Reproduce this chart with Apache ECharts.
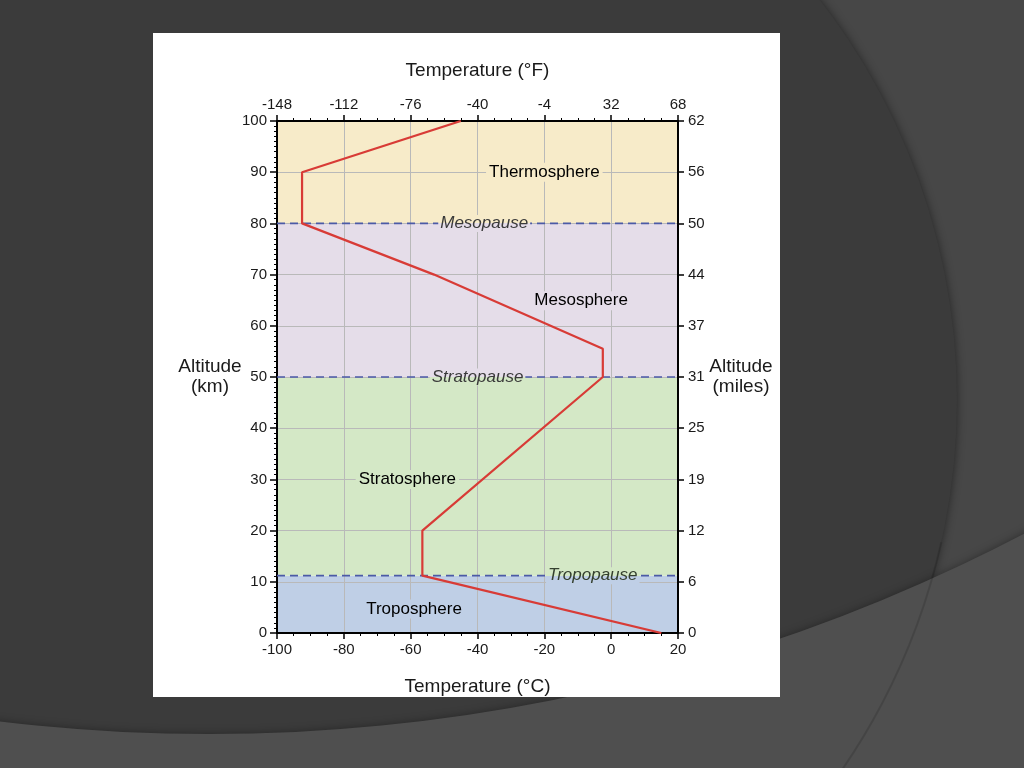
<!DOCTYPE html>
<html><head><meta charset="utf-8">
<script src="https://cdn.jsdelivr.net/npm/echarts@6/dist/echarts.min.js"></script>
<style>html,body{margin:0;padding:0;background:#474747;}#c{width:1024px;height:768px;}</style>
</head><body><div id="c"></div>
<script>
// ---------- data ----------
const celsiusTicks = [-100, -80, -60, -40, -20, 0, 20];
const fahrenheitTicks = [-148, -112, -76, -40, -4, 32, 68];
const kmTicks = [0, 10, 20, 30, 40, 50, 60, 70, 80, 90, 100];
const milesTicks = [0, 6, 12, 19, 25, 31, 37, 44, 50, 56, 62];

const profileTempC = [15, -56.5, -56.5, -2.5, -2.5, -53, -92.5, -92.5, -45];
const profileAltKm = [0, 11.2, 20, 50, 55.5, 70, 80, 90, 100];

const layerNames = ['Troposphere', 'Stratosphere', 'Mesosphere', 'Thermosphere'];
const layerBottomKm = [0, 11.2, 50, 80];
const layerTopKm = [11.2, 50, 80, 100];
const layerLabelTempC = [-59, -61, -9, -20];
const layerLabelAltKm = [4.7, 30, 64.9, 90];

const pauseNames = ['Tropopause', 'Stratopause', 'Mesopause'];
const pauseAltKm = [11.2, 50, 80];
const pauseLabelTempC = [-5.5, -40, -38];

// ---------- styles ----------
const bandColors = ['#bfcfe6', '#d4e8c6', '#e5dde9', '#f7ebc9'];
const pauseTextColors = ['#34402f', '#3a3a3a', '#3a3a3a'];
const FONT = 'Liberation Sans, Arial, Helvetica, sans-serif';

const tMin = celsiusTicks[0], tMax = celsiusTicks[celsiusTicks.length - 1];
const hMin = kmTicks[0], hMax = kmTicks[kmTicks.length - 1];

const chart = echarts.init(document.getElementById('c'));

function splitGrad(top, bottom) {
  return new echarts.graphic.LinearGradient(0, 0, 0, 1, [
    {offset: 0, color: top}, {offset: 0.5, color: top},
    {offset: 0.5, color: bottom}, {offset: 1, color: bottom}
  ]);
}

const labelData = layerNames.map((n, i) => ({
  value: [layerLabelTempC[i], layerLabelAltKm[i]],
  label: {
    show: true, position: 'inside', formatter: n, opacity: 1,
    fontFamily: FONT, fontSize: 17, color: '#000000',
    backgroundColor: bandColors[i], padding: [1, 3]
  }
})).concat(pauseNames.map((n, i) => ({
  value: [pauseLabelTempC[i], pauseAltKm[i]],
  label: {
    show: true, position: 'inside', formatter: n, opacity: 1,
    fontFamily: FONT, fontSize: 17, fontStyle: 'italic', color: pauseTextColors[i],
    backgroundColor: splitGrad(bandColors[i + 1], bandColors[i]), padding: [0, 2]
  }
})));

const pauseSeries = pauseAltKm.map(h => ({
  type: 'line', silent: true, symbol: 'none', z: 3,
  data: [[tMin, h], [tMax, h]],
  lineStyle: {color: '#4b5aa6', width: 1.6, type: [8, 5]}
}));

const axisLineStyle = {color: '#000', width: 2};
const tickLabel = {fontFamily: FONT, fontSize: 15, color: '#1a1a1a'};
const nameStyle = {fontFamily: FONT, fontSize: 19, color: '#1a1a1a', align: 'center', verticalAlign: 'middle', lineHeight: 20};

chart.setOption({
  animation: false,
  backgroundColor: '#474747',
  graphic: [
    {type: 'circle', z: -100, silent: true, shape: {cx: 305, cy: 400, r: 652},
     style: {fill: '#3b3b3b', shadowBlur: 10, shadowColor: 'rgba(0,0,0,0.45)'}},
    {type: 'ring', z: -99, silent: true, shape: {cx: 209, cy: -1024, r0: 1758, r: 3200},
     style: {fill: '#4f4f4f', shadowBlur: 8, shadowColor: 'rgba(0,0,0,0.35)'}},
    {type: 'arc', z: -98, silent: true, shape: {cx: 305, cy: 400, r: 652, startAngle: 0.22, endAngle: 0.75},
     style: {stroke: 'rgba(0,0,0,0.13)', lineWidth: 2, fill: null}},
    {type: 'rect', z: -90, silent: true, shape: {x: 153, y: 33, width: 627, height: 664},
     style: {fill: '#ffffff'}}
  ],
  grid: {left: 277, top: 121, width: 401, height: 512, containLabel: false, outerBoundsMode: 'none', show: false},
  xAxis: [
    {
      type: 'value', position: 'bottom', min: tMin, max: tMax, interval: 20,
      axisLine: {show: true, onZero: false, lineStyle: axisLineStyle},
      axisTick: {show: true, length: 6, lineStyle: {color: '#000', width: 1.5}},
      minorTick: {show: true, splitNumber: 4, length: 3, lineStyle: {color: '#000', width: 1}},
      axisLabel: Object.assign({margin: 9, formatter: v => String(celsiusTicks[Math.round((v - tMin) / 20)])}, tickLabel),
      splitLine: {show: true, lineStyle: {color: '#b9b9b9', width: 1}},
      name: 'Temperature (°C)', nameLocation: 'middle', nameGap: 54, nameMoveOverlap: false, nameTextStyle: nameStyle
    },
    {
      type: 'value', position: 'top', min: tMin, max: tMax, interval: 20,
      axisLine: {show: true, onZero: false, lineStyle: axisLineStyle},
      axisTick: {show: true, length: 6, lineStyle: {color: '#000', width: 1.5}},
      minorTick: {show: true, splitNumber: 4, length: 3, lineStyle: {color: '#000', width: 1}},
      axisLabel: Object.assign({margin: 9, formatter: v => String(fahrenheitTicks[Math.round((v - tMin) / 20)])}, tickLabel),
      splitLine: {show: false},
      name: 'Temperature (°F)', nameLocation: 'middle', nameGap: 50, nameMoveOverlap: false, nameTextStyle: nameStyle
    }
  ],
  yAxis: [
    {
      type: 'value', position: 'left', min: hMin, max: hMax, interval: 10,
      axisLine: {show: true, onZero: false, lineStyle: axisLineStyle},
      axisTick: {show: true, length: 7, lineStyle: {color: '#000', width: 1.5}},
      minorTick: {show: true, splitNumber: 10, length: 3, lineStyle: {color: '#000', width: 1}},
      axisLabel: Object.assign({margin: 10, formatter: v => String(kmTicks[Math.round(v / 10)])}, tickLabel),
      splitLine: {show: true, lineStyle: {color: '#b9b9b9', width: 1}},
      name: 'Altitude\n(km)', nameLocation: 'middle', nameRotate: 0, nameGap: 67, nameMoveOverlap: false, nameTextStyle: nameStyle
    },
    {
      type: 'value', position: 'right', min: hMin, max: hMax, interval: 10,
      axisLine: {show: true, onZero: false, lineStyle: axisLineStyle},
      axisTick: {show: true, length: 6, lineStyle: {color: '#000', width: 1.5}},
      axisLabel: Object.assign({margin: 10, formatter: v => String(milesTicks[Math.round(v / 10)])}, tickLabel),
      splitLine: {show: false},
      name: 'Altitude\n(miles)', nameLocation: 'middle', nameRotate: 0, nameGap: 63, nameMoveOverlap: false, nameTextStyle: nameStyle
    }
  ],
  series: [
    {
      type: 'custom', z: -1, silent: true, clip: true,
      data: layerNames.map((n, i) => [layerBottomKm[i], layerTopKm[i], i]),
      encode: {y: [0, 1]},
      renderItem: (params, api) => {
        const lo = api.value(0), hi = api.value(1);
        const p1 = api.coord([tMin, hi]);
        const p2 = api.coord([tMax, lo]);
        return {type: 'rect', shape: {x: p1[0], y: p1[1], width: p2[0] - p1[0], height: p2[1] - p1[1]},
                style: {fill: bandColors[api.value(2)]}};
      }
    },
    ...pauseSeries,
    {
      type: 'line', z: 4, symbol: 'none', silent: true,
      data: profileTempC.map((t, i) => [t, profileAltKm[i]]),
      lineStyle: {color: '#d83b36', width: 2.2}
    },
    {
      type: 'scatter', z: 5, silent: true, symbolSize: 1,
      itemStyle: {color: 'rgba(0,0,0,0)', opacity: 1},
      data: labelData
    }
  ]
});
</script></body></html>
